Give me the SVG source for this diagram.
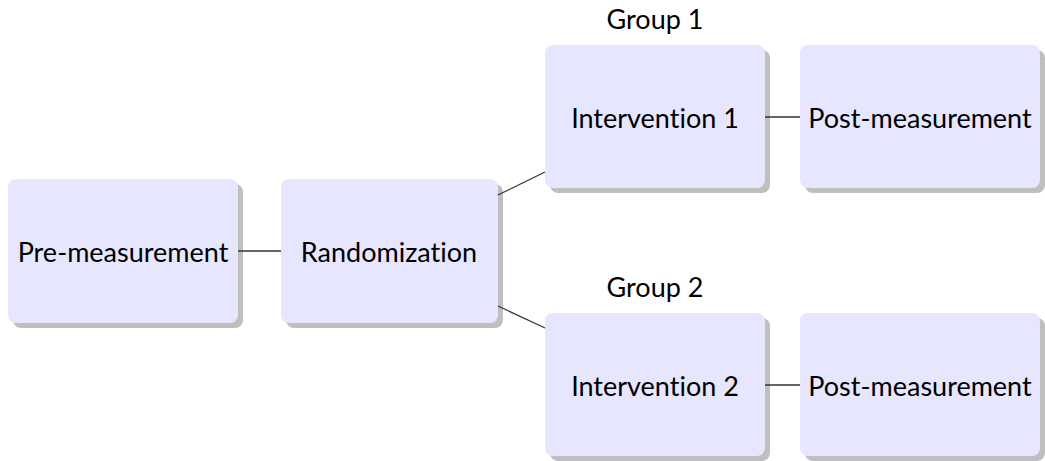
<svg xmlns="http://www.w3.org/2000/svg" width="1045" height="461" viewBox="0 0 1045 461">
  <style>
    .box { fill: #e6e6ff; }
    .shadow { fill: #bfbfbf; }
    .label { font-family: Lato, "Liberation Sans", sans-serif; font-size: 27px; fill: #000; text-anchor: middle; font-variant-ligatures: none; }
    .link { stroke: #333; stroke-width: 1.3; fill: none; }
  </style>
  <rect width="1045" height="461" fill="#fff"/>

  <g id="pre">
    <rect class="shadow" x="13" y="184" width="230" height="144" rx="8"/>
    <rect class="box" x="8" y="179" width="230" height="144" rx="8"/>
    <text class="label" x="123" y="262">Pre-measurement</text>
  </g>

  <g id="randomization">
    <rect class="shadow" x="286" y="184" width="217" height="144" rx="8"/>
    <rect class="box" x="281" y="179" width="217" height="144" rx="8"/>
    <text class="label" x="389" y="262">Randomization</text>
  </g>

  <g id="intervention1">
    <rect class="shadow" x="550" y="50" width="220" height="143" rx="8"/>
    <rect class="box" x="545" y="45" width="220" height="143" rx="8"/>
    <text class="label" x="655" y="128">Intervention 1</text>
  </g>

  <g id="post1">
    <rect class="shadow" x="805" y="50" width="240" height="143" rx="8"/>
    <rect class="box" x="800" y="45" width="240" height="143" rx="8"/>
    <text class="label" x="920" y="128">Post-measurement</text>
  </g>

  <g id="intervention2">
    <rect class="shadow" x="550" y="318" width="220" height="143" rx="8"/>
    <rect class="box" x="545" y="313" width="220" height="143" rx="8"/>
    <text class="label" x="655" y="396">Intervention 2</text>
  </g>

  <g id="post2">
    <rect class="shadow" x="805" y="318" width="240" height="143" rx="8"/>
    <rect class="box" x="800" y="313" width="240" height="143" rx="8"/>
    <text class="label" x="920" y="396">Post-measurement</text>
  </g>

  <g id="group-labels">
    <text class="label" x="655" y="29">Group 1</text>
    <text class="label" x="655" y="297">Group 2</text>
  </g>

  <!-- plain links, drawn over the drop shadows -->
  <g id="connectors">
    <line class="link" x1="238" y1="251" x2="281" y2="251"/>
    <line class="link" x1="498" y1="195" x2="545" y2="172"/>
    <line class="link" x1="498" y1="306" x2="545" y2="328"/>
    <line class="link" x1="765" y1="117" x2="800" y2="117"/>
    <line class="link" x1="765" y1="385" x2="800" y2="385"/>
  </g>
</svg>
